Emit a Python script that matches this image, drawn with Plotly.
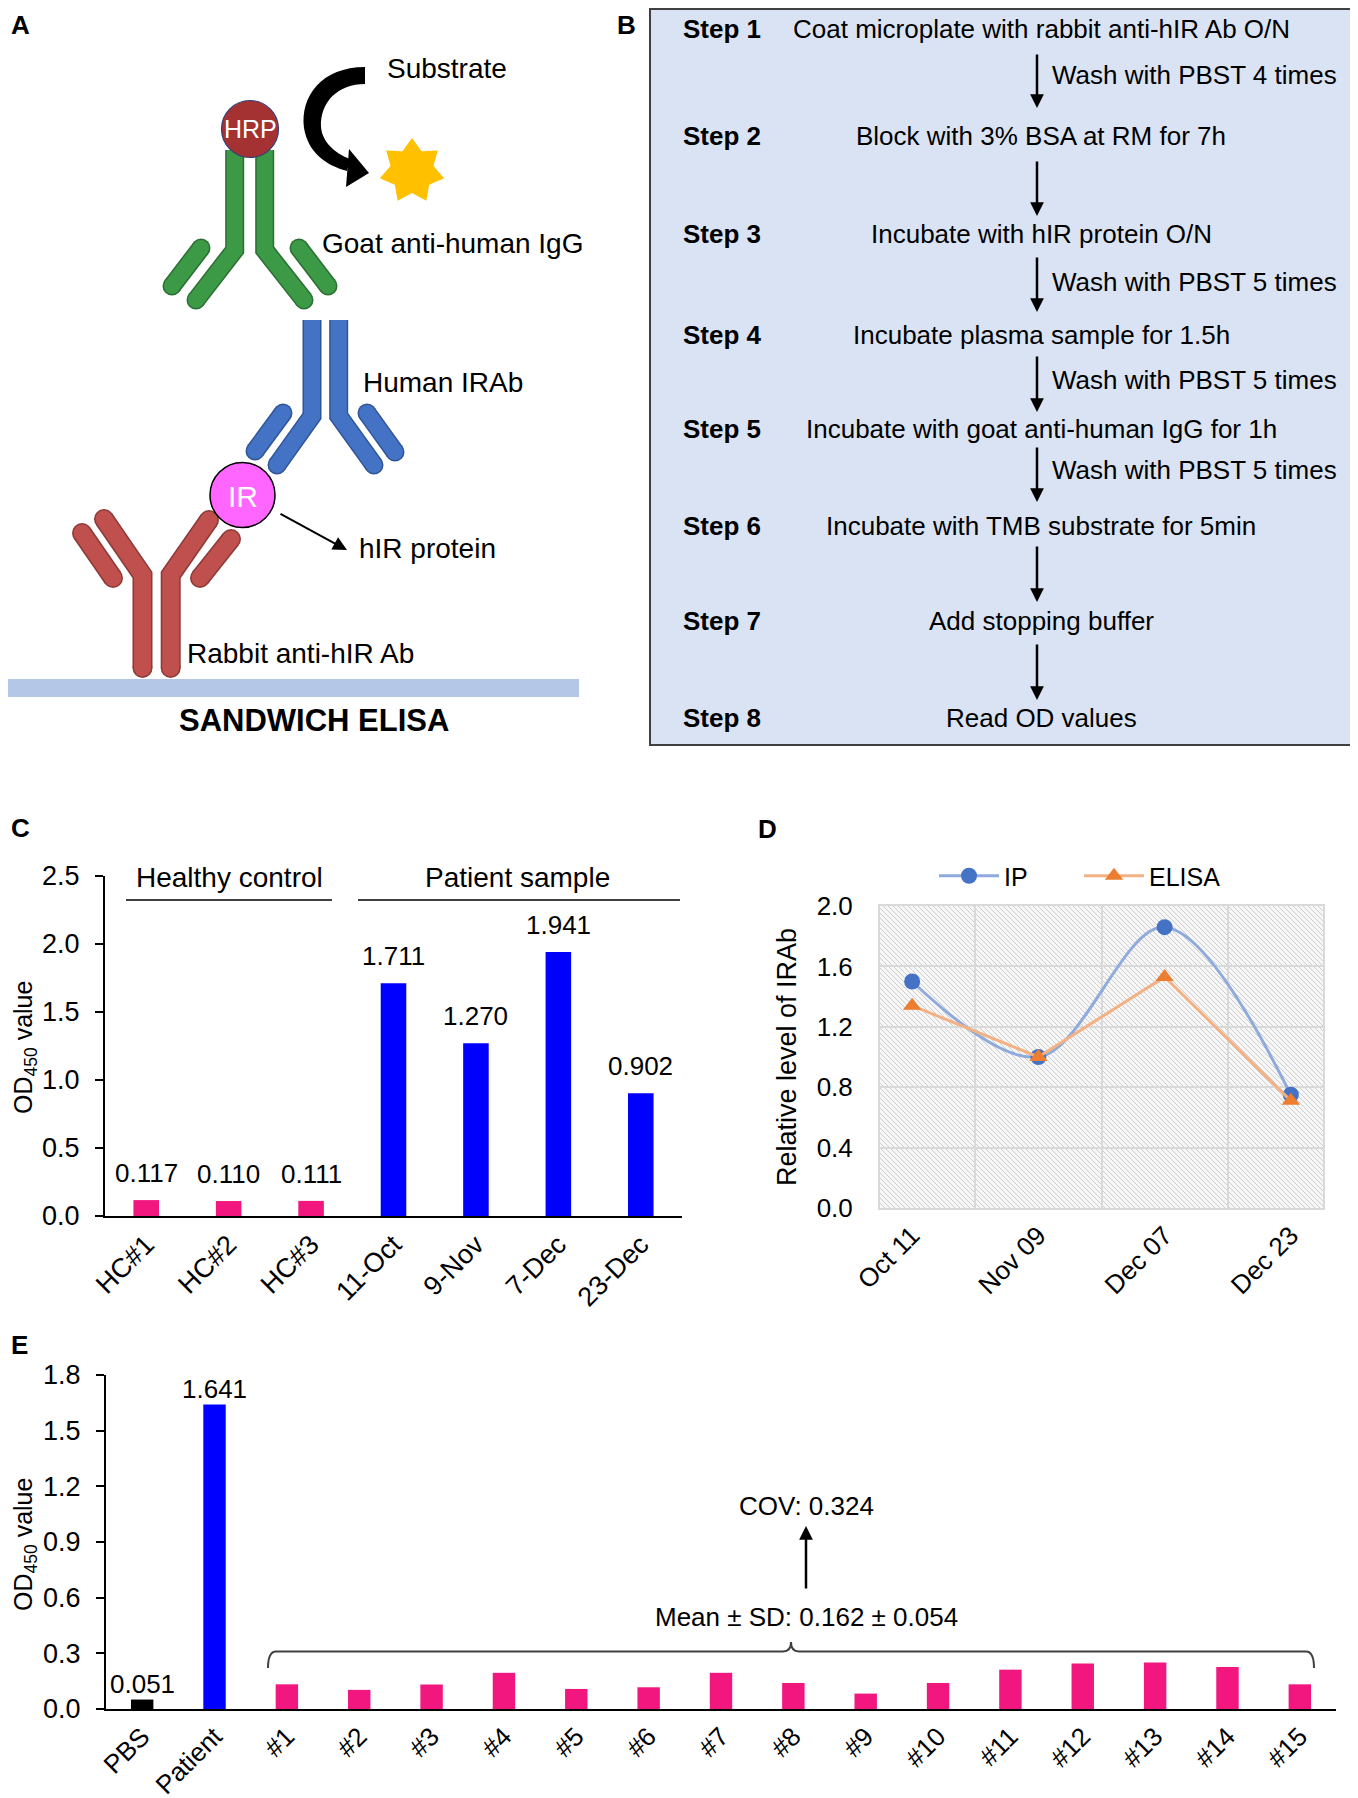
import math
import plotly.graph_objects as go

W, H = 1358, 1798
# la pagina deja 8 px de margen en el body; compensamos
OX, OY = 8, 8
FONT = "Liberation Sans, Arial, sans-serif"

PINK = "#F2167F"
BLUE = "#0000FF"

# Panel C: OD450 de controles sanos y muestras del paciente.
C_LABELS = ["HC#1", "HC#2", "HC#3", "11-Oct", "9-Nov", "7-Dec", "23-Dec"]
C_VALUES = [0.117, 0.110, 0.111, 1.711, 1.270, 1.941, 0.902]
C_GROUPS = ["HC", "HC", "HC", "Patient", "Patient", "Patient", "Patient"]

# Panel D: nivel relativo de IRAb (IP vs ELISA).
D_DATES = ["Oct 11", "Nov 09", "Dec 07", "Dec 23"]
D_IP = [1.50, 1.00, 1.86, 0.75]
D_ELISA = [1.34, 1.00, 1.53, 0.71]

# Panel E: PBS, paciente y 15 controles.
E_LABELS = ["PBS", "Patient", "#1", "#2", "#3", "#4", "#5", "#6", "#7",
            "#8", "#9", "#10", "#11", "#12", "#13", "#14", "#15"]
E_VALUES = [0.051, 1.641, 0.133, 0.103, 0.132, 0.195, 0.108, 0.117, 0.195,
            0.140, 0.083, 0.140, 0.212, 0.245, 0.250, 0.227, 0.133]
E_GROUPS = ["PBS", "Patient"] + ["HC"] * 15

GROUP_COLORS = {"HC": PINK, "Patient": BLUE, "PBS": "#000000"}

# Panel B: protocolo.
STEPS = ["Step 1", "Step 2", "Step 3", "Step 4", "Step 5", "Step 6", "Step 7", "Step 8"]
STEP_TEXT = [
    "Coat microplate with rabbit anti-hIR Ab O/N",
    "Block with 3% BSA at RM for 7h",
    "Incubate with hIR protein O/N",
    "Incubate plasma sample for 1.5h",
    "Incubate with goat anti-human IgG for 1h",
    "Incubate with TMB substrate for 5min",
    "Add stopping buffer",
    "Read OD values",
]
WASH_TEXT = ["Wash with PBST 4 times", "", "Wash with PBST 5 times",
             "Wash with PBST 5 times", "Wash with PBST 5 times", "", ""]

# posiciones (pixeles) del panel B
STEP_Y = [29, 136, 234, 335, 429, 526, 621, 718]
ARROW_Y = [(53, 108), (160, 216), (256, 312), (355, 412), (446, 502), (545, 602), (643, 700)]
WASH_Y = [75, None, 282, 380, 470, None, None]


def fx(x):
    return (x - OX) / W


def fy(y):
    return 1 - (y - OY) / H


def path(*segs):
    out = []
    for seg in segs:
        cmd, pts = seg[0], seg[1:]
        out.append(cmd + " ".join(f"{fx(x):.5f},{fy(y):.5f}" for x, y in pts))
    return " ".join(out)


shapes = []
annotations = []


def add_path(d, color="rgba(0,0,0,0)", width=0, fill="rgba(0,0,0,0)", layer="above"):
    shapes.append(dict(type="path", path=d, xref="paper", yref="paper",
                       line=dict(color=color, width=width), fillcolor=fill, layer=layer))


def add_circle(cx, cy, r, fill, line_color=None, lw=0):
    shapes.append(dict(type="circle", xref="paper", yref="paper",
                       x0=fx(cx - r), x1=fx(cx + r), y0=fy(cy + r), y1=fy(cy - r),
                       fillcolor=fill, line=dict(color=line_color or fill, width=lw)))


def add_line(x0, y0, x1, y1, color, width, layer="above"):
    shapes.append(dict(type="line", xref="paper", yref="paper", x0=fx(x0), x1=fx(x1),
                       y0=fy(y0), y1=fy(y1), line=dict(color=color, width=width), layer=layer))


def text(x, y, s, size=26, xanchor="center", color="black", angle=0, yanchor="middle"):
    annotations.append(dict(x=fx(x), y=fy(y), xref="paper", yref="paper", text=s,
                            showarrow=False, xanchor=xanchor, yanchor=yanchor,
                            textangle=angle, font=dict(size=size, color=color, family=FONT)))


def arrow(x0, y0, x1, y1, width=2.5, size=1.1):
    annotations.append(dict(x=fx(x1), y=fy(y1), xref="paper", yref="paper", text="",
                            showarrow=True, ax=x0 - x1, ay=y0 - y1, arrowhead=2,
                            arrowsize=size, arrowwidth=width, arrowcolor="black"))


def antibody(bars, color, edge, w):
    # primero el contorno, luego el relleno
    for pts, caps in bars:
        add_path(path(("M", pts[0]), *[("L", p) for p in pts[1:]]), edge, w + 3)
        for flag, p in zip(caps, (pts[0], pts[-1])):
            if flag:
                add_circle(p[0], p[1], (w + 3) / 2, edge)
    for pts, caps in bars:
        add_path(path(("M", pts[0]), *[("L", p) for p in pts[1:]]), color, w)
        for flag, p in zip(caps, (pts[0], pts[-1])):
            if flag:
                add_circle(p[0], p[1], w / 2, color)


# ---------------- Panel A ----------------
add_path(path(("M", (8, 679)), ("L", (579, 679)), ("L", (579, 697)), ("L", (8, 697)), ("Z",)),
         fill="#B4C7E7")

antibody([
    ([(142.5, 668), (142.5, 575), (104, 519)], (True, True)),
    ([(170.7, 668), (170.7, 575), (209, 520)], (True, True)),
    ([(113, 578), (82, 533)], (True, True)),
    ([(200, 578), (231, 539)], (True, True)),
], "#C0504D", "#8B3A38", 17)

antibody([
    ([(312, 320), (312, 416), (277, 465)], (False, True)),
    ([(338.7, 320), (338.7, 416), (374, 465)], (False, True)),
    ([(283, 413), (255, 451)], (True, True)),
    ([(367, 413), (395, 452)], (True, True)),
], "#4472C4", "#2F5597", 16)

antibody([
    ([(234.7, 150), (234.7, 250), (196, 300)], (False, True)),
    ([(264.7, 150), (264.7, 250), (304, 300)], (False, True)),
    ([(201, 248), (172, 286)], (True, True)),
    ([(299, 248), (328, 286)], (True, True)),
], "#3C9A46", "#2B6E33", 16)

add_circle(242.5, 495, 32.5, "#FF66FF", "#000000", 1.5)
add_circle(250, 129, 28.5, "#A53232", "#33407A", 1.2)

# flecha curva del sustrato
add_path(path(("M", (365, 67)), ("C", (322, 67), (300, 96), (304, 128)),
              ("C", (308, 152), (325, 165), (347, 171)), ("L", (350, 159)),
              ("C", (334, 153), (322, 141), (321, 127)),
              ("C", (320, 102), (338, 84), (365, 84)), ("Z",)), fill="#000000")
add_path(path(("M", (349, 149)), ("L", (369, 173)), ("L", (346, 187)), ("Z",)), fill="#000000")

# estrella
star = []
for k in range(14):
    ang = math.radians(-90 + k * 360 / 14)
    r = 33 if k % 2 == 0 else 22
    star.append((412 + r * math.cos(ang), 171 + r * math.sin(ang)))
add_path(path(("M", star[0]), *[("L", p) for p in star[1:]], ("Z",)), fill="#FFC000")

arrow(279, 513, 347, 550, width=2, size=1.4)

text(9, 8, "<b>A</b>", 26, xanchor="left", yanchor="top")
text(447, 68, "Substrate", 28)
text(250, 129, "HRP", 25, color="white")
text(242.5, 496, "IR", 30, color="white")
text(320, 243, "Goat anti-human IgG", 28, xanchor="left")
text(361, 382, "Human IRAb", 28, xanchor="left")
text(357, 548, "hIR protein", 28, xanchor="left")
text(185, 653, "Rabbit anti-hIR Ab", 28, xanchor="left")
text(314, 720, "<b>SANDWICH ELISA</b>", 31)

# ---------------- Panel B ----------------
shapes.append(dict(type="rect", xref="paper", yref="paper", x0=fx(650), x1=fx(1356),
                   y0=fy(745), y1=fy(9), fillcolor="#DAE3F3",
                   line=dict(color="#404040", width=2), layer="below"))
text(626, 8, "<b>B</b>", 26, yanchor="top")
for lab, t, y in zip(STEPS, STEP_TEXT, STEP_Y):
    text(681, y, f"<b>{lab}</b>", 26, xanchor="left")
    text(1041, y, t, 26)
for (y0, y1), wash, wy in zip(ARROW_Y, WASH_TEXT, WASH_Y):
    arrow(1037, y0, 1037, y1, width=2.5, size=1.1)
    if wash:
        text(1050, wy, wash, 26, xanchor="left")

# ---------------- Panel C ----------------
text(9, 828, "<b>C</b>", 26, xanchor="left")
text(25, 1048, "OD<sub>450</sub> value", 25, angle=-90)
text(229, 877, "Healthy control", 28)
text(517, 877, "Patient sample", 28)
add_line(126, 900, 332, 900, "#404040", 2)
add_line(358, 900, 680, 900, "#404040", 2)
for lab, val in zip(C_LABELS, C_VALUES):
    annotations.append(dict(x=lab, y=val, xref="x", yref="y", text=f"{val:.3f}",
                            showarrow=False, yanchor="middle", yshift=27,
                            font=dict(size=26, color="black", family=FONT)))

# ---------------- Panel D ----------------
text(767, 829, "<b>D</b>", 26)
DX0, DX1, DY0, DY1 = 880, 1323, 906, 1208
shapes.append(dict(type="rect", xref="paper", yref="paper", x0=fx(DX0), x1=fx(DX1),
                   y0=fy(DY1), y1=fy(DY0), fillcolor="#F7F7F7", line=dict(width=0),
                   layer="below"))
c = DX0 - DY1
while c < DX1 - DY0:
    xa, xb = max(DX0, DY0 + c), min(DX1, DY1 + c)
    if xa < xb:
        add_line(xa, xa - c, xb, xb - c, "#CDCDCD", 1, layer="below")
    c += 5

# ---------------- Panel E ----------------
text(9, 1345, "<b>E</b>", 26, xanchor="left")
text(25, 1545, "OD<sub>450</sub> value", 25, angle=-90)
for lab, val in zip(E_LABELS[:2], E_VALUES[:2]):
    annotations.append(dict(x=lab, y=val, xref="x3", yref="y3", text=f"{val:.3f}",
                            showarrow=False, yanchor="middle", yshift=16,
                            font=dict(size=26, color="black", family=FONT)))
add_path(path(("M", (268, 1668)), ("Q", (268, 1651.5), (276, 1651.5)), ("L", (783, 1651.5)),
              ("Q", (791, 1651.5), (791, 1642)), ("Q", (791, 1651.5), (799, 1651.5)),
              ("L", (1306, 1651.5)), ("Q", (1314, 1651.5), (1314, 1668))), "#404040", 2)
text(806, 1617, "Mean ± SD: 0.162 ± 0.054", 26)
text(806, 1506, "COV: 0.324", 26)
arrow(806, 1590, 806, 1526, width=2.5, size=1.1)

# ---------------- trazas ----------------
fig = go.Figure()

fig.add_trace(go.Bar(
    x=C_LABELS, y=C_VALUES, marker_color=[GROUP_COLORS[g] for g in C_GROUPS],
    marker_line_width=0, xaxis="x", yaxis="y", showlegend=False, hoverinfo="skip",
))

fig.add_trace(go.Scatter(
    x=D_DATES, y=D_IP, name="IP", mode="lines+markers", xaxis="x2", yaxis="y2",
    line=dict(color="#8FAADC", width=3, shape="spline", smoothing=1),
    marker=dict(symbol="circle", size=16, color="#4472C4"),
))
fig.add_trace(go.Scatter(
    x=D_DATES, y=D_ELISA, name="ELISA", mode="lines+markers", xaxis="x2", yaxis="y2",
    line=dict(color="#F4B183", width=3),
    marker=dict(symbol="triangle-up", size=16, color="#ED7D31"),
))

fig.add_trace(go.Bar(
    x=E_LABELS, y=E_VALUES, marker_color=[GROUP_COLORS[g] for g in E_GROUPS],
    marker_line_width=0, xaxis="x3", yaxis="y3", showlegend=False, hoverinfo="skip",
))

black_axis = dict(showline=True, linecolor="black", linewidth=2, showgrid=False,
                  zeroline=False, automargin=False,
                  tickfont=dict(size=27, color="black", family=FONT))

fig.update_layout(
    template="none",
    width=W,
    height=H,
    margin=dict(l=0, r=0, t=0, b=0, autoexpand=False),
    paper_bgcolor="white",
    plot_bgcolor="white",
    font=dict(family=FONT, color="black", size=26),
    bargap=0.69,
    hovermode=False,
    shapes=shapes,
    annotations=annotations,
    legend=dict(orientation="h", x=fx(934), xanchor="left", y=fy(876), yanchor="middle",
                font=dict(size=25), bgcolor="rgba(0,0,0,0)", itemwidth=60,
                entrywidth=70, entrywidthmode="pixels"),
    xaxis=dict(domain=[fx(105), fx(682)], anchor="y", type="category", ticks="",
               tickangle=-45, **black_axis),
    yaxis=dict(domain=[fy(1216), fy(876)], anchor="x", range=[0, 2.5], dtick=0.5,
               tickformat=".1f", ticks="outside", ticklen=8, tickwidth=2, tickcolor="black",
               ticklabelstandoff=10, **black_axis),
    xaxis2=dict(domain=[fx(DX0), fx(DX1)], anchor="y2", type="category", showline=True,
                mirror=True, linecolor="#D9D9D9", linewidth=2, showgrid=True,
                gridcolor="#D9D9D9", gridwidth=2, tickson="boundaries", ticks="",
                tickangle=-45, automargin=False, zeroline=False,
                tickfont=dict(size=26, color="black")),
    yaxis2=dict(domain=[fy(DY1), fy(DY0)], anchor="x2", range=[0, 2.0], dtick=0.4,
                tickformat=".1f", showline=True, mirror=True, linecolor="#D9D9D9",
                linewidth=2, showgrid=True, gridcolor="#D9D9D9", gridwidth=2,
                zeroline=False, ticks="", ticklabelstandoff=20, automargin=False,
                tickfont=dict(size=26, color="black"),
                title=dict(text="Relative level of IRAb", font=dict(size=27), standoff=12)),
    xaxis3=dict(domain=[fx(106), fx(1336)], anchor="y3", type="category", ticks="",
                tickangle=-45, **{**black_axis, "tickfont": dict(size=26, color="black",
                                                                 family=FONT)}),
    yaxis3=dict(domain=[fy(1709), fy(1375)], anchor="x3", range=[0, 1.8], dtick=0.3,
                tickformat=".1f", ticks="outside", ticklen=8, tickwidth=2, tickcolor="black",
                ticklabelstandoff=10, **black_axis),
)

fig.write_html("out.html")
